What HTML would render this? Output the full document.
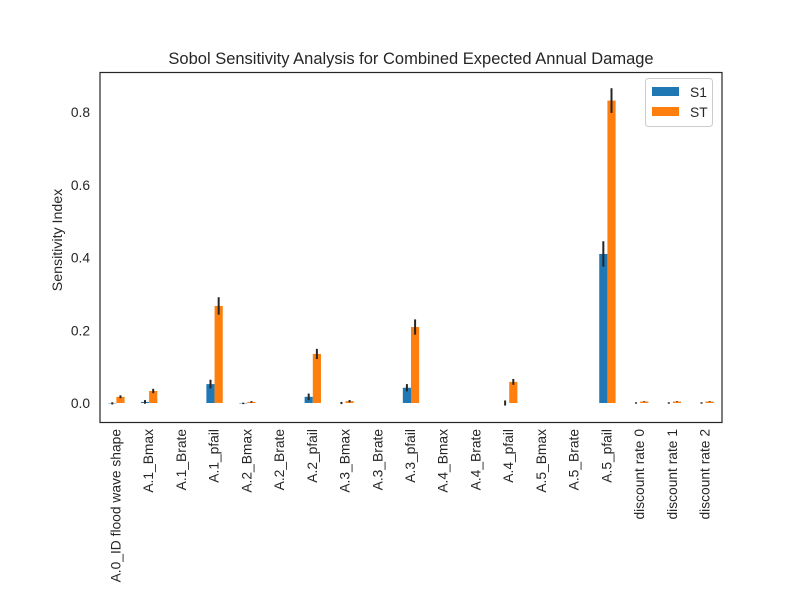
<!DOCTYPE html>
<html><head><meta charset="utf-8"><style>
html,body{margin:0;padding:0;background:#fff;}
svg{display:block;font-family:"Liberation Sans",Arial,sans-serif;}
</style></head><body>
<svg id="chart" width="800" height="600" viewBox="0 0 800 600">
<rect x="0" y="0" width="800" height="600" fill="#fff"/>
<text x="411" y="64" font-size="16.5" text-anchor="middle" fill="#262626">Sobol Sensitivity Analysis for Combined Expected Annual Damage</text>
<text transform="translate(62,240) rotate(-90)" font-size="14.2" text-anchor="middle" fill="#262626">Sensitivity Index</text>
<g id="ticks"></g>
<g id="bars"></g>
<rect x="100" y="72.5" width="622" height="350" fill="none" stroke="#262626" stroke-width="1.2"/>
<g>
<rect x="645.5" y="78.5" width="67" height="48" rx="3" fill="#fff" stroke="#ccc"/>
<rect x="652" y="87" width="27" height="9" fill="#1f77b4"/>
<text x="690" y="97" font-size="13.8" fill="#262626">S1</text>
<rect x="652" y="107" width="27" height="9" fill="#ff7f0e"/>
<text x="690" y="117" font-size="13.8" fill="#262626">ST</text>
</g>
</svg>
<script>
const categories = ["A.0_ID flood wave shape","A.1_Bmax","A.1_Brate","A.1_pfail","A.2_Bmax","A.2_Brate","A.2_pfail","A.3_Bmax","A.3_Brate","A.3_pfail","A.4_Bmax","A.4_Brate","A.4_pfail","A.5_Bmax","A.5_Brate","A.5_pfail","discount rate 0","discount rate 1","discount rate 2"];
const s1Values = [-0.001,0.003,0,0.052,-0.001,0,0.017,0,0,0.042,0,0,0,0,0,0.410,0,0,0];
const s1Errors = [0.003,0.005,0,0.012,0.002,0,0.009,0.003,0,0.010,0,0,0.007,0,0,0.035,0.002,0.002,0.002];
const stValues = [0.017,0.033,0,0.267,0.003,0,0.135,0.005,0,0.209,0,0,0.058,0,0,0.832,0.004,0.004,0.004];
const stErrors = [0.004,0.006,0,0.024,0.002,0,0.014,0.003,0,0.021,0,0,0.008,0,0,0.034,0.001,0.001,0.001];
const yTicks = [0.0,0.2,0.4,0.6,0.8];
const tickLabels = ["0.0","0.2","0.4","0.6","0.8"];

const NS="http://www.w3.org/2000/svg";
const left=100,right=722,y0=403,pxPerUnit=363.5;
const step=(right-left)/categories.length;
function xCenter(i){return left+step*(i+0.5);}
function yPos(v){return y0-v*pxPerUnit;}
function mk(tag,attrs,parent){const e=document.createElementNS(NS,tag);for(const k in attrs)e.setAttribute(k,attrs[k]);parent.appendChild(e);return e;}
const ticksG=document.getElementById('ticks');
const barsG=document.getElementById('bars');
yTicks.forEach((v,i)=>{
  const t=mk('text',{x:90,y:yPos(v)+5,'font-size':13.8,'text-anchor':'end',fill:'#262626'},ticksG);
  
  
  t.textContent=tickLabels[i];
});
categories.forEach((c,i)=>{
  const cx=xCenter(i);
  const t=mk('text',{transform:`translate(${cx+4},429) rotate(-90)`,'font-size':13.8,'text-anchor':'end',fill:'#262626'},ticksG);
  
  
  t.textContent=c;
  const bw=step*0.25;
  [[s1Values,s1Errors,'#1f77b4',cx-bw,'bar-s1'],[stValues,stErrors,'#ff7f0e',cx,'bar-st']].forEach(([vals,errs,col,bx,nm])=>{
    const v=vals[i];
    const top=Math.min(yPos(v),y0),h=Math.abs(yPos(v)-y0);
    const r=mk('rect',{x:bx,y:top,width:bw,height:h,fill:col},barsG);
    
    
    if(errs[i]>0){
      const ex=bx+bw/2;
      const l=mk('line',{x1:ex,x2:ex,y1:yPos(v+errs[i]),y2:yPos(v-errs[i]),stroke:'#262626','stroke-width':2},barsG);
      
      
    }
  });
});
</script>
</body></html>
